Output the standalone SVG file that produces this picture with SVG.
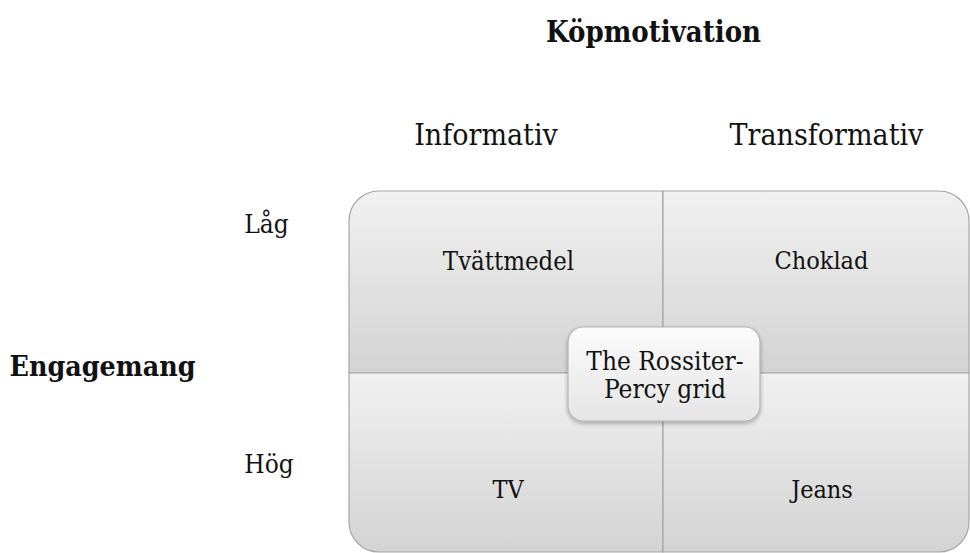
<svg xmlns="http://www.w3.org/2000/svg" width="970" height="553" viewBox="0 0 970 553">
<defs>
<linearGradient id="qg" x1="0" y1="0" x2="0" y2="1">
<stop offset="0" stop-color="#f1f1f1"/>
<stop offset="1" stop-color="#d3d3d3"/>
</linearGradient>
<linearGradient id="cg" x1="0" y1="0" x2="0" y2="1">
<stop offset="0" stop-color="#fbfbfb"/>
<stop offset="1" stop-color="#e5e5e5"/>
</linearGradient>
<filter id="sh" x="-20%" y="-20%" width="140%" height="150%">
<feGaussianBlur in="SourceAlpha" stdDeviation="2"/>
<feOffset dx="0" dy="2" result="b"/>
<feComponentTransfer><feFuncA type="linear" slope="0.3"/></feComponentTransfer>
<feMerge><feMergeNode/><feMergeNode in="SourceGraphic"/></feMerge>
</filter>
</defs>
<style>
.q{fill:url(#qg);stroke:#a6a6a6;stroke-width:1.2}
.t{font-family:"DejaVu Serif Condensed","DejaVu Serif","Liberation Serif",serif;font-stretch:condensed;fill:#111;text-anchor:middle}
.b{font-weight:bold}
</style>
<g id="header">
<text class="t b" x="653.5" y="42" font-size="29">Köpmotivation</text>
<text class="t" x="486" y="145" font-size="30">Informativ</text>
<text class="t" x="826.5" y="145" font-size="30">Transformativ</text>
<text class="t b" x="102.5" y="376" font-size="28.3">Engagemang</text>
<text class="t" x="266.5" y="233" font-size="26">Låg</text>
<text class="t" x="269" y="473" font-size="26">Hög</text>
</g>
<g id="q-tl">
<path class="q" d="M349,373 V221 A30,30 0 0 1 379,191 H663 V373 Z"/>
<text class="t" x="508.5" y="270" font-size="25.5">Tvättmedel</text>
</g>
<g id="q-tr">
<path class="q" d="M663,191 H939 A30,30 0 0 1 969,221 V373 H663 Z"/>
<text class="t" x="821.5" y="269" font-size="25">Choklad</text>
</g>
<g id="q-bl">
<path class="q" d="M349,373 H663 V552 H379 A30,30 0 0 1 349,522 Z"/>
<text class="t" x="508" y="498" font-size="25">TV</text>
</g>
<g id="q-br">
<path class="q" d="M663,373 H969 V522 A30,30 0 0 1 939,552 H663 Z"/>
<text class="t" x="822" y="498" font-size="25">Jeans</text>
</g>
<g id="connectors"></g>
<g id="center">
<rect x="568" y="327" width="192" height="94" rx="15" ry="15" fill="url(#cg)" stroke="#b3b3b3" stroke-width="1.2" filter="url(#sh)"/>
<text class="t" x="665" y="370" font-size="26">The Rossiter-</text>
<text class="t" x="665" y="398" font-size="26">Percy grid</text>
</g>
</svg>
